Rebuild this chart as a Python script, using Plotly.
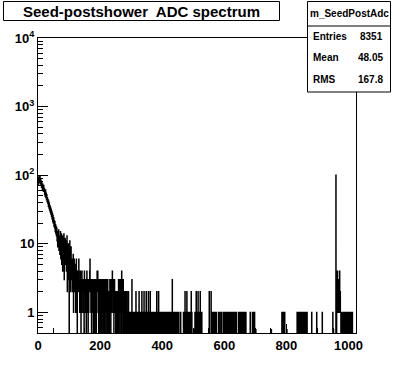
import numpy as np
import plotly.graph_objects as go

# ---- data ----
bin_width = 1.0
n_bins = 1024

# counts of bins 0..127
head_counts = [
    71, 92, 84, 97, 78, 89, 95, 74, 86, 79,
    83, 66, 78, 70, 61, 74, 65, 58, 71, 60,
    64, 52, 59, 49, 61, 47, 55, 44, 52, 41,
    47, 39, 44, 35, 42, 33, 39, 31, 36, 29,
    34, 27, 32, 25, 30, 23, 28, 21, 26, 20,
    24, 18, 22, 17, 21, 15, 19, 14, 18, 13,
    17, 11, 15, 9, 14, 10, 16, 8, 13, 11,
    7, 12, 15, 6, 11, 14, 5, 10, 13, 4,
    9, 12, 6, 14, 3, 10, 7, 12, 5, 9,
    11, 4, 8, 13, 2, 9, 6, 10, 3, 7,
    0, 8, 11, 4, 7, 2, 9, 5, 6, 3,
    6, 2, 5, 7, 1, 4, 6, 2, 5, 3,
    4, 1, 3, 6, 2, 4, 0, 3,
]

# counts of bins 128..1023, one digit per bin (32 bins per line)
tail_digits = [
    "34262313 42031423 21320423 31302413",
    "20313246 32130231 23013203 13202342",
    "41302321 03120313 20312032 13021320",
    "31200023 13023124 23130231 21021202",
    "12031320 31320413 20312012 10210120",
    "10120101 01010130 10101101 01020101",
    "00001201 01011020 10101201 01012010",
    "10120101 02010110 10110101 01011021",
    "01012010 10101010 11010101 01010110",
    "00101001 01001010 30101001 01001010",
    "10010100 00010000 00001010 12010102",
    "10101010 01010201 00000000 01000210",
    "10120101 01201001 00000000 00000000",
    "00000002 00000200 01010110 10101010",
    "00000100 00100001 00000101 00101101",
    "01010110 10101011 01010101 10101010",
    "00000100 10010001 01001010 01000100",
    "00000000 00010000 00100100 01000000",
    "00000000 00000000 00000000 00000000",
    "00000000 00000000 00000000 00000000",
    "00000000 00000000 01010110 10100000",
    "00000000 00000000 00000000 00000000",
    "00101010 10110101 01010101 10101010",
    "10100000 00000000 01000000 00000000",
    "01000000 00000000 00010000 00000000",
    "00000000 00000000 00000100 00000000",
    "00314121 31141210 10110101 10100110",
    "10101001 01010010 01001000 00000000",
]

spike_bins = [959]
spike_counts = [100]

stub_bins = [501, 701, 751, 801, 951]
stub_counts = [0.56, 0.56, 0.56, 0.56, 0.56]

y_tick_vals = [1, 10, 100, 1000, 10000]
y_tick_text = ["1", "10", "10<sup>2</sup>", "10<sup>3</sup>", "10<sup>4</sup>"]
x_tick_vals = [0, 200, 400, 600, 800, 1000]

title_text = "Seed-postshower  ADC spectrum"
stats_name = "m_SeedPostAdc"
stats_labels = ["Entries", "Mean", "RMS"]
stats_values = ["8351", "48.05", "167.8"]

# ---- build histogram ----
tail = "".join(tail_digits).replace(" ", "")
counts = np.array(head_counts + [int(c) for c in tail], dtype=float)
counts = np.concatenate([counts, np.zeros(max(0, n_bins - len(counts)))])[:n_bins]
for b, c in zip(spike_bins, spike_counts):
    counts[b] = c
for b, c in zip(stub_bins, stub_counts):
    counts[b] = c

edges = np.arange(n_bins + 1) * bin_width
yplot = np.where(counts > 0, counts, 1e-3)
xs = edges
ys = np.append(yplot, yplot[-1])

W, H = 396, 372
L, R, T, B = 38, 356, 38, 333


def px(xp):
    return (xp - L) / (R - L)


def py(yp):
    return (B - yp) / (B - T)


font_b = dict(family="Liberation Sans, Arial, sans-serif", color="black", weight="bold")

fig = go.Figure()
fig.add_trace(go.Scatter(
    x=xs, y=ys, mode="lines", line=dict(color="black", width=1.2, shape="hv"),
    hoverinfo="skip", showlegend=False,
))

minor_y = []
for d in [0.1, 1, 10, 100, 1000]:
    for k in range(2, 10):
        v = k * d
        if v >= 0.5:
            minor_y.append(v)

fig.update_layout(
    width=W, height=H,
    margin=dict(l=L, r=W - R, t=T, b=H - B, pad=0, autoexpand=False),
    paper_bgcolor="white", plot_bgcolor="white",
    showlegend=False,
    xaxis=dict(
        range=[0, n_bins * bin_width], showgrid=False, zeroline=False, automargin=False,
        showline=True, mirror=True, linecolor="black", linewidth=1,
        ticks="inside", ticklen=9, tickcolor="black", tickwidth=1,
        tickvals=x_tick_vals, ticktext=[str(v) for v in x_tick_vals],
        tickfont=dict(size=13, **font_b),
        minor=dict(ticks="inside", ticklen=5, tickcolor="black", dtick=50, tick0=0, showgrid=False),
    ),
    yaxis=dict(
        type="log", range=[np.log10(0.5), 4], showgrid=False, zeroline=False, automargin=False,
        showline=True, mirror=True, linecolor="black", linewidth=1,
        ticks="inside", ticklen=10, tickcolor="black", tickwidth=1,
        tickvals=y_tick_vals, ticktext=y_tick_text,
        tickfont=dict(size=13, **font_b),
        minor=dict(ticks="inside", ticklen=5, tickcolor="black", tickvals=minor_y, showgrid=False),
    ),
)

shapes = []
# title box
shapes.append(dict(type="rect", xref="paper", yref="paper",
                   x0=px(3.5), x1=px(279.5), y0=py(20.5), y1=py(1.5),
                   line=dict(color="black", width=1), fillcolor="white", layer="above"))
# stats box
shapes.append(dict(type="rect", xref="paper", yref="paper",
                   x0=px(307.5), x1=px(390.5), y0=py(92), y1=py(1.5),
                   line=dict(color="black", width=1), fillcolor="white", layer="above"))
shapes.append(dict(type="line", xref="paper", yref="paper",
                   x0=px(307.5), x1=px(390.5), y0=py(26), y1=py(26),
                   line=dict(color="black", width=1), layer="above"))
fig.update_layout(shapes=shapes)

ann = []
ann.append(dict(text=title_text, xref="paper", yref="paper", x=px(141.5), y=py(11),
                xanchor="center", yanchor="middle", showarrow=False,
                font=dict(size=15, **font_b)))
ann.append(dict(text=stats_name, xref="paper", yref="paper", x=px(349), y=py(14),
                xanchor="center", yanchor="middle", showarrow=False,
                font=dict(size=10, **font_b)))
for i, (lab, val) in enumerate(zip(stats_labels, stats_values)):
    yy = [36, 57.5, 79][i]
    ann.append(dict(text=lab, xref="paper", yref="paper", x=px(310.5), y=py(yy),
                    xanchor="left", yanchor="middle", showarrow=False,
                    font=dict(size=10, **font_b)))
    ann.append(dict(text=val, xref="paper", yref="paper", x=px(385), y=py(yy),
                    xanchor="right", yanchor="middle", showarrow=False,
                    font=dict(size=10, **font_b)))
fig.update_layout(annotations=ann)

fig.write_html("out.html", config={"displayModeBar": False},
               post_script="document.body.style.margin='0px';")
